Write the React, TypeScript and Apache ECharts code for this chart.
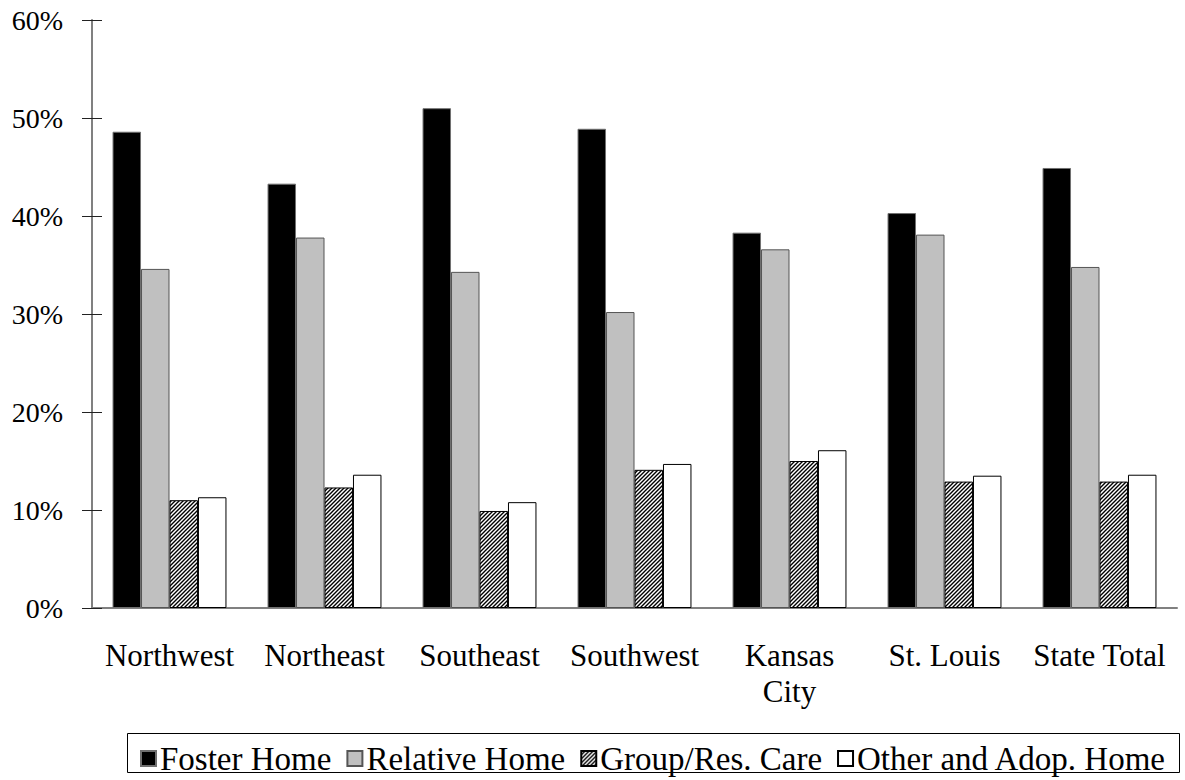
import React, { useEffect, useRef } from "react";
import * as echarts from "echarts";

const categories = ["Northwest", "Northeast", "Southeast", "Southwest", "Kansas City", "St. Louis", "State Total"];
const fosterHome = [48.6, 43.3, 51.0, 48.9, 38.3, 40.3, 44.9];
const relativeHome = [34.6, 37.8, 34.3, 30.2, 36.6, 38.1, 34.8];
const groupResCare = [11.0, 12.3, 9.9, 14.1, 15.0, 12.9, 12.9];
const otherAdopHome = [11.3, 13.6, 10.8, 14.7, 16.1, 13.5, 13.6];
const seriesNames = ["Foster Home", "Relative Home", "Group/Res. Care", "Other and Adop. Home"];

const FONT = "'Liberation Serif', 'Times New Roman', serif";

function makeHatch(): HTMLCanvasElement {
  const c = document.createElement("canvas");
  c.width = 4;
  c.height = 4;
  const ctx = c.getContext("2d")!;
  ctx.fillStyle = "#ffffff";
  ctx.fillRect(0, 0, 4, 4);
  ctx.strokeStyle = "#000000";
  ctx.lineWidth = 1.4;
  ctx.beginPath();
  ctx.moveTo(-1, 5);
  ctx.lineTo(5, -1);
  ctx.moveTo(-1, 1);
  ctx.lineTo(1, -1);
  ctx.moveTo(3, 5);
  ctx.lineTo(5, 3);
  ctx.stroke();
  return c;
}

export default function App() {
  const ref = useRef<HTMLDivElement>(null);
  useEffect(() => {
    if (!ref.current) return;
    const chart = echarts.init(ref.current, null, { renderer: "svg" });
    const hatch = makeHatch();
    const styles = [
      { color: "#000000", borderColor: "#707070", borderWidth: 1 },
      { color: "#c0c0c0", borderColor: "#555555", borderWidth: 1 },
      { color: { image: hatch, repeat: "repeat" }, borderColor: "#000000", borderWidth: 1 },
      { color: "#ffffff", borderColor: "#000000", borderWidth: 1 },
    ];
    const data = [fosterHome, relativeHome, groupResCare, otherAdopHome];
    chart.setOption({
      animation: false,
      backgroundColor: "#ffffff",
      textStyle: { fontFamily: FONT },
      grid: { left: 92, right: 8, top: 20, bottom: 172, containLabel: false },
      legend: {
        data: seriesNames,
        icon: "rect",
        left: 135,
        top: 737,
        itemWidth: 15,
        itemHeight: 15,
        itemGap: 15,
        textStyle: { fontFamily: FONT, fontSize: 33, color: "#000", padding: [0, 0, 0, -1] },
      },
      graphic: [
        {
          type: "rect",
          shape: { x: 127.5, y: 733.5, width: 1052, height: 39 },
          style: { fill: "none", stroke: "#000", lineWidth: 1 },
          z: 10,
        },
      ],
      xAxis: {
        type: "category",
        data: categories,
        axisLine: { lineStyle: { color: "#808080", width: 2 } },
        axisTick: { show: false },
        axisLabel: {
          interval: 0,
          margin: 29,
          fontFamily: FONT,
          fontSize: 31,
          lineHeight: 36,
          color: "#000",
          formatter: (v: string) => (v === "Kansas City" ? "Kansas\nCity" : v),
        },
      },
      yAxis: [
        {
          type: "value",
          min: 0,
          max: 60,
          interval: 10,
          axisLine: { show: true, lineStyle: { color: "#808080", width: 2 } },
          axisTick: { show: true, length: 10, lineStyle: { color: "#222", width: 1 } },
          splitLine: { show: false },
          axisLabel: {
            margin: 29,
            fontFamily: FONT,
            fontSize: 28,
            color: "#000",
            formatter: "{value}%",
          },
        },
        {
          type: "value",
          position: "left",
          min: 0,
          max: 60,
          interval: 10,
          axisLine: { show: false },
          axisTick: { show: true, inside: true, length: 10, lineStyle: { color: "#222", width: 1 } },
          splitLine: { show: false },
          axisLabel: { show: false },
        },
      ],
      series: seriesNames.map((name, i) => ({
        name,
        type: "bar",
        data: data[i],
        barGap: "0%",
        barCategoryGap: "26.5%",
        itemStyle: styles[i],
      })),
    });
    return () => chart.dispose();
  }, []);
  return (
    <div
      ref={ref}
      style={{ position: "fixed", left: 0, top: 0, width: 1185, height: 780 }}
    />
  );
}
